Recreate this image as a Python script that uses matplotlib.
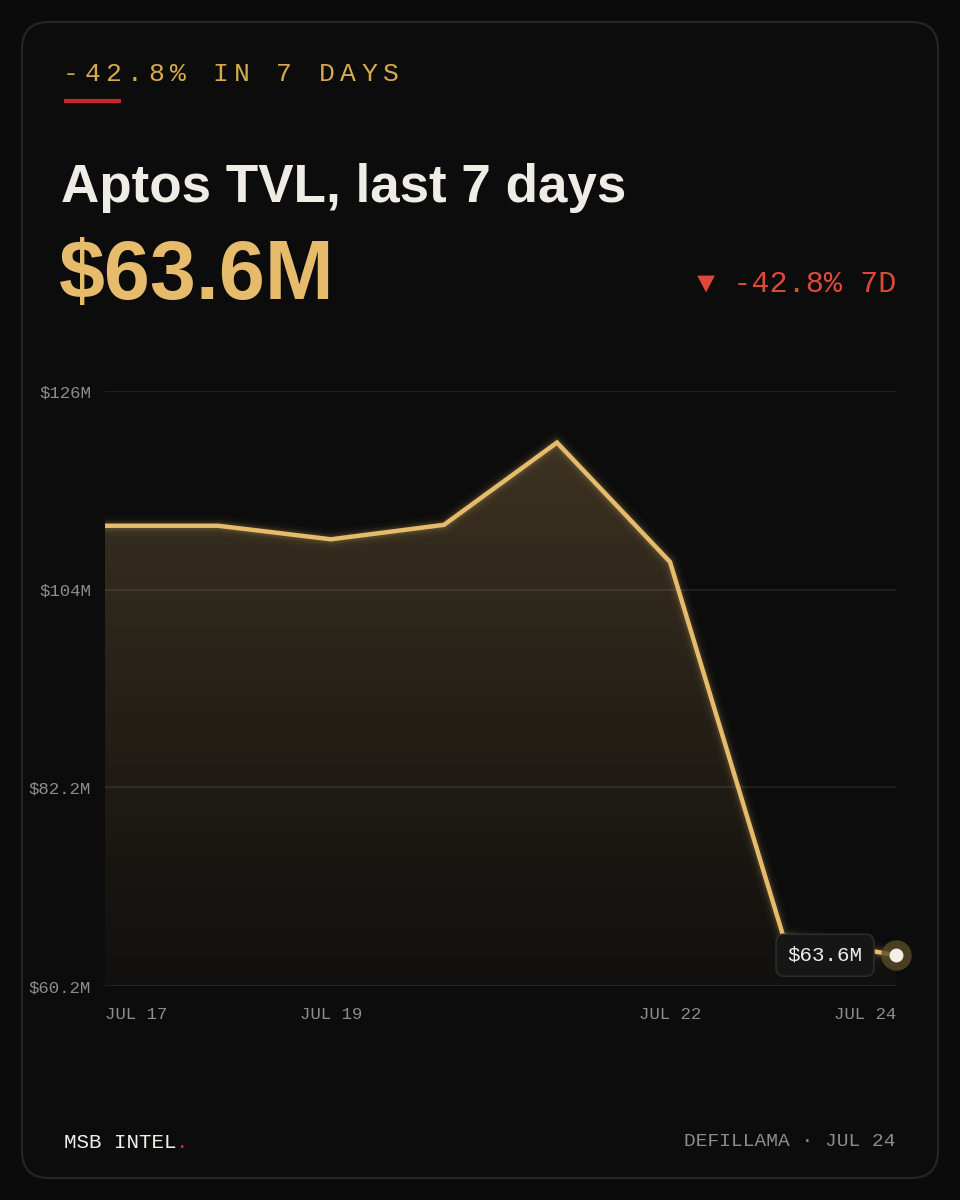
import matplotlib.pyplot as plt
import numpy as np
from matplotlib.patches import FancyBboxPatch, Polygon

# Data
days = ['JUL 17', 'JUL 18', 'JUL 19', 'JUL 20', 'JUL 21', 'JUL 22', 'JUL 23', 'JUL 24']
tvl = [111.1, 111.1, 109.6, 111.2, 120.3, 107.1, 65.8, 63.6]
y_ticks = [60.2, 82.2, 104, 126]
y_labels = ['$60.2M', '$82.2M', '$104M', '$126M']
x_tick_idx = [0, 2, 5, 7]

BG = '#0b0b0b'
GOLD = '#e6bb6c'
HEAD_GOLD = '#d6aa4c'
RED = '#e0493a'
W, H = 960, 1200

fig = plt.figure(figsize=(9.6, 12), dpi=100, facecolor=BG)


def fx(x):
    return x / W


def fy(y):
    return 1 - y / H


# card border
card = FancyBboxPatch((fx(22), fy(1178)), fx(916), (1178 - 22) / H,
                      boxstyle='round,pad=0,rounding_size=0.028',
                      transform=fig.transFigure, facecolor='#0c0c0c',
                      edgecolor='#262626', linewidth=1.6, mutation_aspect=0.8,
                      zorder=-10)
fig.patches.append(card)

# header with letter spacing
head = '-42.8% IN 7 DAYS'
for i, ch in enumerate(head):
    fig.text(fx(63 + i * 21.3), fy(74), ch, color=HEAD_GOLD, fontsize=19,
             family='Liberation Mono', ha='left', va='center')
fig.add_artist(plt.Line2D([fx(64), fx(121)], [fy(101), fy(101)], color='#c8262a',
                          linewidth=3, solid_capstyle='butt', transform=fig.transFigure))

fig.text(fx(61), fy(202), 'Aptos TVL, last 7 days', color='#efece6', fontsize=38.2,
         family='Liberation Sans', fontweight='bold', ha='left', va='baseline')
fig.text(fx(59), fy(299), '$63.6M', color=GOLD, fontsize=59.5,
         family='Liberation Sans', fontweight='bold', ha='left', va='baseline')
fig.text(fx(896), fy(284), '\u25bc -42.8% 7D', color=RED, fontsize=21.7,
         family=['Liberation Mono', 'DejaVu Sans'], ha='right', va='center')

# chart
ax = fig.add_axes([fx(105), fy(986), (896 - 105) / W, (986 - 391) / H])
ax.set_facecolor('none')
x = np.arange(len(tvl))
ax.set_xlim(0, len(tvl) - 1)
ax.set_ylim(60.2, 126)

for yt in y_ticks:
    ax.axhline(yt, color='#232323', linewidth=1.2, zorder=0)

# gradient fill under line
verts = [(0, 60.2)] + list(zip(x, tvl)) + [(x[-1], 60.2)]
poly = Polygon(verts, closed=True, facecolor='none', edgecolor='none')
ax.add_patch(poly)
grad = np.linspace(1, 0, 256).reshape(-1, 1)
rgba = np.zeros((256, 1, 4))
rgba[..., 0] = 0.90
rgba[..., 1] = 0.72
rgba[..., 2] = 0.42
rgba[..., 3] = 0.03 + 0.22 * grad ** 1.2
im = ax.imshow(rgba, extent=(0, len(tvl) - 1, 60.2, 126), aspect='auto',
               origin='upper', zorder=1)
im.set_clip_path(poly)

# glow + line
for lw, a in [(14, 0.03), (9, 0.06), (6, 0.1)]:
    ax.plot(x, tvl, color=GOLD, linewidth=lw, alpha=a, solid_capstyle='round',
            solid_joinstyle='round', zorder=2)
ax.plot(x, tvl, color=GOLD, linewidth=3.2, solid_joinstyle='miter', zorder=3)

# end marker
ax.scatter([x[-1]], [tvl[-1]], s=480, color='#5a4a2a', alpha=0.8, zorder=4,
           clip_on=False, linewidths=0)
ax.scatter([x[-1]], [tvl[-1]], s=100, color='#f4efe6', zorder=5, clip_on=False,
           linewidths=0)

# value badge
ax.annotate('$63.6M', xy=(x[-1], tvl[-1]), xytext=(-71, 0), textcoords='offset pixels',
            color='#f0ede8', fontsize=15, family='Liberation Mono', ha='center',
            va='center', zorder=6,
            bbox=dict(boxstyle='round,pad=0.55,rounding_size=0.4', facecolor='#161616',
                      edgecolor='#2c2c2c', linewidth=1.2))

for s in ax.spines.values():
    s.set_visible(False)
ax.set_yticks(y_ticks)
ax.set_yticklabels(y_labels)
ax.set_xticks(x_tick_idx)
ax.set_xticklabels([days[i] for i in x_tick_idx])
ax.tick_params(length=0, colors='#8c8c8c', labelsize=12.5)
ax.tick_params(axis='y', pad=10)
ax.tick_params(axis='x', pad=15)
for lab in ax.get_yticklabels() + ax.get_xticklabels():
    lab.set_family('Liberation Mono')
xl = ax.get_xticklabels()
xl[0].set_ha('left')
xl[-1].set_ha('right')

# footer
fig.text(fx(64), fy(1142), 'MSB INTEL', color='#f0ede8', fontsize=15,
         family='Liberation Mono', ha='left', va='center')
fig.text(fx(176), fy(1142), '.', color='#c8262a', fontsize=15,
         family='Liberation Mono', ha='left', va='center')
fig.text(fx(896), fy(1142), 'DEFILLAMA \u00b7 JUL 24', color='#8c8c8c', fontsize=14,
         family='Liberation Mono', ha='right', va='center')

fig.savefig('out.png', dpi=100, facecolor=BG)
